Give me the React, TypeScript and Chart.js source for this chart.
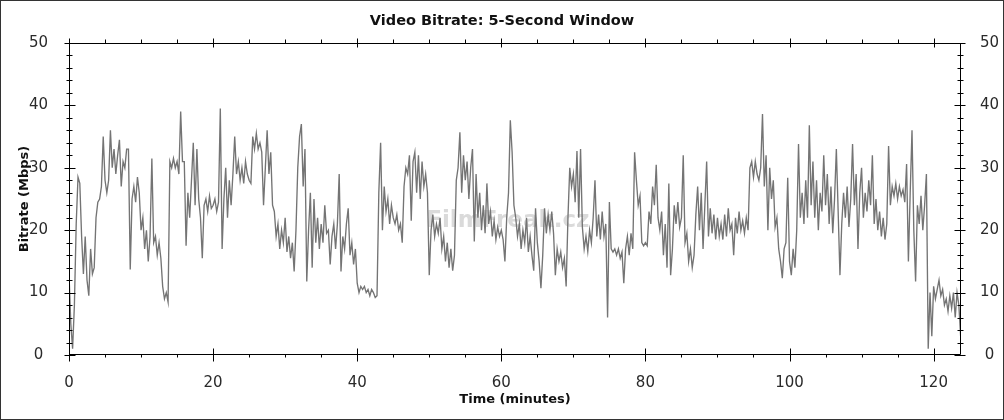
import { useEffect, useRef } from "react";
import { Chart, registerables } from "chart.js";

Chart.register(...registerables);

// ---------- data ----------
const SAMPLE_STEP_MIN = 0.25; // one reading every 15 s, four per minute
const bitrateMbps: number[] = [
  13, 5, 1, 8,
  21, 28.5, 27.5, 19,
  13, 19, 12, 9.5,
  17, 13, 14, 22,
  24.5, 25, 27, 35,
  28, 26, 28, 36,
  30, 33, 29, 32,
  34.5, 27, 31, 30,
  33, 33, 13.7, 25,
  27, 24.5, 28.5, 26,
  20, 22, 17, 20, // 10
  15, 19, 31.5, 18,
  19, 16, 18, 15.5,
  11, 9, 10, 8.5,
  31, 30, 31.5, 30,
  31, 29, 39, 31,
  31, 17.5, 26, 22,
  28, 34, 24, 33,
  25, 22, 15.5, 24,
  25, 23, 25.5, 23.5,
  24, 25, 23, 24.5, // 20
  39.5, 17, 25, 30,
  22, 28, 24, 29,
  35, 29, 31, 28,
  30, 27.5, 31, 29,
  28, 27.5, 35, 33,
  35.5, 33, 34, 32.5,
  24, 30, 36, 29,
  32.5, 24, 23, 19,
  21, 17, 20, 18,
  22, 16.5, 19, 15.5, // 30
  18, 13.4, 20, 30,
  35, 37, 27, 33,
  11.8, 20, 26, 14,
  25, 18, 22, 17,
  21, 18, 24, 19.5,
  20, 14.5, 19, 21,
  17, 21, 29, 13.4,
  19, 17, 21, 23.5,
  16, 18, 14.5, 17,
  11.5, 10, 11, 10.5, // 40
  11, 10, 10.5, 9.5,
  10.5, 10, 9.2, 9.5,
  26, 34, 20, 27,
  23, 25, 21, 24,
  22, 21, 22.5, 20,
  21, 18, 27, 30,
  29, 32, 21.5, 31,
  32.5, 26, 32, 25,
  31, 27, 29, 26,
  12.8, 20, 22.5, 19, // 50
  21, 19.5, 22, 17,
  19, 15, 18, 14,
  17, 13.5, 16, 28,
  30, 35.7, 26, 32,
  28, 31, 25, 30,
  33, 18.2, 29, 22,
  26, 20, 24, 19.5,
  27.5, 21, 23, 19,
  21.5, 18.5, 20.5, 19,
  20, 18.5, 15, 22, // 60
  26, 37.6, 32.5, 24,
  22, 19, 21, 17,
  20, 18, 22, 16.5,
  19, 16, 13.5, 23.5,
  18, 15, 10.7, 16,
  23.5, 19.5, 22.5, 20,
  23, 19.5, 12.8, 17,
  15, 16.5, 14, 15.5,
  11, 22, 30, 27,
  29, 24.5, 32.7, 22, // 70
  33, 20.5, 17, 19,
  16.6, 20, 18, 22,
  28, 19, 22.5, 18.5,
  23, 19, 21, 6,
  24.5, 17, 16.5, 17,
  16, 17, 15.5, 16.5,
  11.5, 17, 19, 16,
  19.5, 17, 32.5, 28,
  24, 25.5, 18, 17.5,
  18, 17.5, 23, 21, // 80
  27, 24, 30.5, 22,
  20, 23, 16, 21,
  14, 27.5, 12.8, 17,
  24, 21, 24.5, 20.5,
  22, 32, 18, 19.5,
  15, 17, 14, 16,
  22.5, 27, 20, 26,
  17, 24, 31, 19,
  23.5, 19.5, 22.5, 18.5,
  22, 19, 21, 18.5, // 90
  22.5, 19, 23.5, 20,
  21, 16, 22, 19.5,
  23, 20, 21.5, 19.5,
  22, 20, 30, 31,
  28.5, 31, 29, 28,
  30, 38.6, 27, 32,
  20, 30, 25, 28,
  20.5, 22, 17, 15,
  12.3, 17, 18, 28.4,
  15, 12.8, 17, 14, // 100
  20, 33.8, 22, 26,
  21, 28, 22, 36.8,
  24, 31, 22, 28,
  20, 26, 23, 32,
  24, 29, 21, 27,
  19.5, 25, 33, 23,
  12.8, 21, 26, 22,
  27, 20.5, 25, 33.8,
  24, 29, 17, 26,
  30, 22, 26, 23, // 110
  28, 24, 32, 21,
  25, 20, 23, 19,
  22, 18.5, 21, 33.5,
  24, 27, 25.5, 27.5,
  25, 27, 25.5, 26.5,
  24.5, 30.6, 15, 26,
  36, 20, 11.8, 24,
  21, 25.5, 20, 24,
  29, 1, 10, 3,
  11, 9, 10.5, 12, // 120
  9.5, 10.5, 8, 9,
  7, 9.5, 7.5, 10,
  6, 10, 8, 3,
];

const xTickValues = [0, 20, 40, 60, 80, 100, 120];
const yTickValues = [0, 10, 20, 30, 40, 50];
const X_MINOR_STEP = 5;
const Y_MINOR_STEP = 2;
const X_MAX = 123.8;
const Y_MAX = 50;

const TITLE = "Video Bitrate: 5-Second Window";
const X_TITLE = "Time (minutes)";
const Y_TITLE = "Bitrate (Mbps)";
const WATERMARK = "FilmFreak.cz";

// ---------- styling ----------
const FONT = "'DejaVu Sans', 'Liberation Sans', Arial, sans-serif";
const LINE_COLOR = "#747474";
const TEXT_COLOR = "#2a2a2a";

const frameAndTicks = {
  id: "frameAndTicks",
  beforeDatasetsDraw(chart: any) {
    const { ctx, chartArea: a } = chart;
    ctx.save();
    ctx.font = `bold 23px ${FONT}`;
    ctx.fillStyle = "rgba(205,205,205,0.75)";
    ctx.textAlign = "center";
    ctx.textBaseline = "middle";
    ctx.fillText(WATERMARK, a.left + (a.right - a.left) * 0.492, a.top + (a.bottom - a.top) * 0.57);
    ctx.restore();
  },
  afterDatasetsDraw(chart: any) {
    const { ctx, chartArea: a, scales, width, height } = chart;
    const xs = scales.x;
    const ys = scales.y;
    const L = Math.round(a.left) + 0.5;
    const R = Math.round(a.right) - 0.5;
    const T = Math.round(a.top) + 0.5;
    const B = Math.round(a.bottom) - 0.5;
    ctx.save();
    ctx.strokeStyle = "#000";
    ctx.lineWidth = 1;
    ctx.beginPath();
    ctx.rect(L, T, R - L, B - T);
    // y ticks on both sides
    for (let v = 0; v <= Y_MAX + 1e-9; v += Y_MINOR_STEP) {
      const py = Math.round(ys.getPixelForValue(v)) + 0.5;
      const major = v % 10 === 0;
      if (major) {
        ctx.moveTo(L - 5, py); ctx.lineTo(L + 6, py);
        ctx.moveTo(R - 6, py); ctx.lineTo(R + 5, py);
      } else {
        ctx.moveTo(L - 3, py); ctx.lineTo(L + 3, py);
        ctx.moveTo(R - 3, py); ctx.lineTo(R + 3, py);
      }
    }
    // x ticks on bottom and top
    for (let v = 0; v <= X_MAX; v += X_MINOR_STEP) {
      const px = Math.round(xs.getPixelForValue(v)) + 0.5;
      const major = v % 20 === 0;
      if (major) {
        ctx.moveTo(px, B - 6); ctx.lineTo(px, B + 7);
        ctx.moveTo(px, T - 5); ctx.lineTo(px, T + 4);
      } else {
        ctx.moveTo(px, B); ctx.lineTo(px, B + 3);
        ctx.moveTo(px, T - 4); ctx.lineTo(px, T);
      }
    }
    ctx.stroke();
    // outer picture frame
    ctx.strokeStyle = "#333";
    ctx.strokeRect(0.5, 0.5, width - 1, height - 1);
    ctx.restore();
  },
};

export default function App() {
  const canvasRef = useRef<HTMLCanvasElement | null>(null);

  useEffect(() => {
    document.body.style.margin = "0";
    const canvas = canvasRef.current;
    if (!canvas) return;
    const points = bitrateMbps.map((v, i) => ({ x: i * SAMPLE_STEP_MIN, y: v }));
    const tickFont = { family: FONT, size: 15 };
    const chart = new Chart(canvas, {
      type: "line",
      data: {
        datasets: [
          {
            data: points,
            borderColor: LINE_COLOR,
            borderWidth: 1.35,
            pointRadius: 0,
            tension: 0,
            fill: false,
          },
        ],
      },
      options: {
        responsive: false,
        animation: false,
        devicePixelRatio: 1,
        parsing: false,
        layout: { padding: 0 },
        plugins: {
          legend: { display: false },
          tooltip: { enabled: false },
          title: {
            display: true,
            text: TITLE,
            color: "#111",
            font: { family: FONT, size: 14.5, weight: "bold" },
            padding: { top: 13, bottom: 12.6 },
          },
        },
        scales: {
          x: {
            type: "linear",
            min: 0,
            max: X_MAX,
            afterBuildTicks: (s: any) => {
              s.ticks = xTickValues.map((value) => ({ value }));
            },
            afterFit: (s: any) => {
              s.height = 65;
            },
            grid: { display: false },
            border: { display: false },
            ticks: { font: tickFont, color: TEXT_COLOR, padding: 11, maxRotation: 0, autoSkip: false },
            title: {
              display: true,
              text: X_TITLE,
              color: "#111",
              font: { family: FONT, size: 13, weight: "bold" },
              padding: { top: 0, bottom: 13 },
            },
          },
          y: {
            type: "linear",
            position: "left",
            min: 0,
            max: Y_MAX,
            afterBuildTicks: (s: any) => {
              s.ticks = yTickValues.map((value) => ({ value }));
            },
            afterFit: (s: any) => {
              s.width = 69;
            },
            grid: { display: false },
            border: { display: false },
            ticks: { font: tickFont, color: TEXT_COLOR, padding: 13, crossAlign: "center" },
            title: {
              display: true,
              text: Y_TITLE,
              color: "#111",
              font: { family: FONT, size: 13, weight: "bold" },
              padding: { top: 17, bottom: 0 },
            },
          },
          y2: {
            type: "linear",
            position: "right",
            min: 0,
            max: Y_MAX,
            afterBuildTicks: (s: any) => {
              s.ticks = yTickValues.map((value) => ({ value }));
            },
            afterFit: (s: any) => {
              s.width = 43;
            },
            grid: { display: false },
            border: { display: false },
            ticks: { font: tickFont, color: TEXT_COLOR, padding: 11, crossAlign: "center" },
          },
        },
      } as any,
      plugins: [frameAndTicks],
    });
    return () => chart.destroy();
  }, []);

  return (
    <div style={{ width: 1004, height: 420, background: "#fff" }}>
      <canvas ref={canvasRef} width={1004} height={420} style={{ display: "block" }} />
    </div>
  );
}
